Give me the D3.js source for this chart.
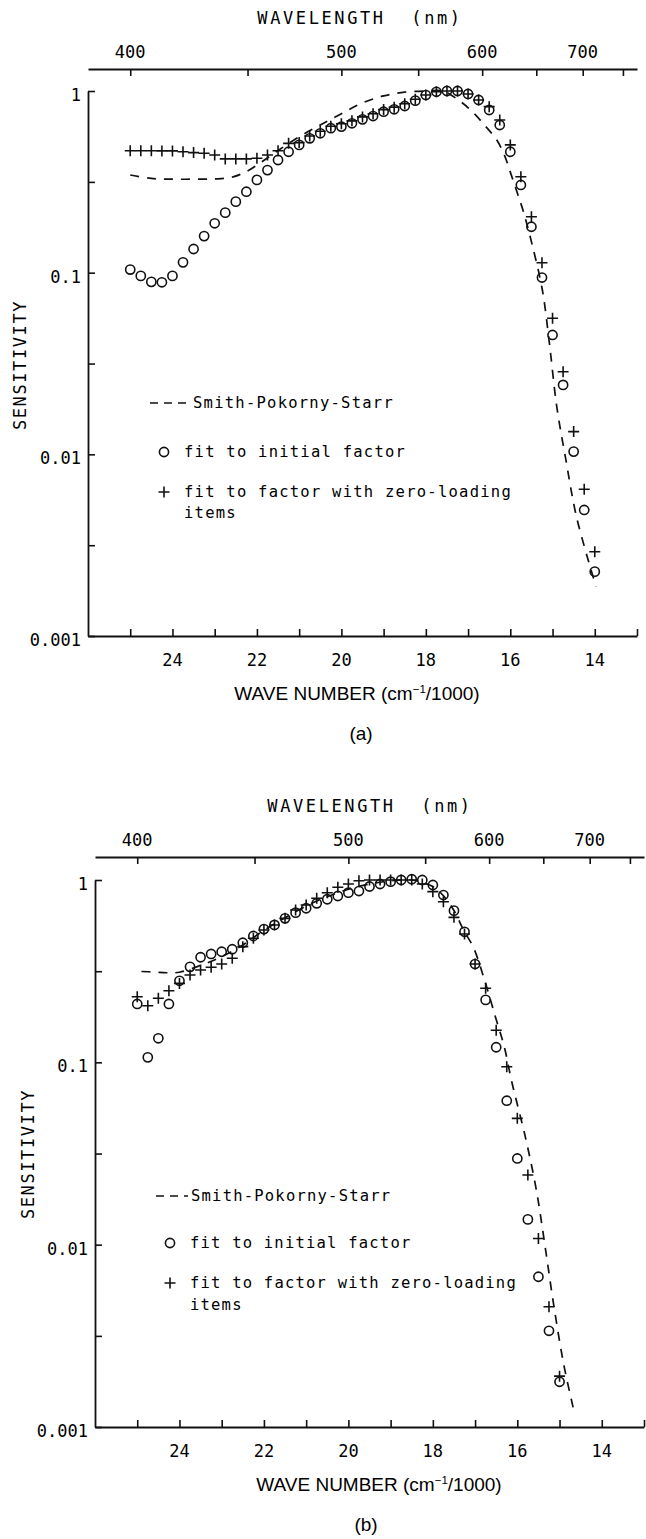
<!DOCTYPE html>
<html><head><meta charset="utf-8">
<script src="https://cdn.jsdelivr.net/npm/d3@7/dist/d3.min.js"></script>
<style>body{margin:0;background:#fff}svg{display:block}</style>
</head><body>
<svg id="chart" width="646" height="1539"></svg>
<script>
// ---------- axis ticks / labels ----------
const wavelengthTicks = [400, 450, 500, 550, 600, 650, 700, 750];
const wavelengthLabels = [400, 500, 600, 700];
const wavenumberTicks = [25, 24, 23, 22, 21, 20, 19, 18, 17, 16, 15, 14, 13];
const wavenumberLabels = [24, 22, 20, 18, 16, 14];
const sensTicks = [1, 0.316, 0.1, 0.0316, 0.01, 0.00316, 0.001];
const sensLabels = [1, 0.1, 0.01, 0.001];
const sensLabelText = ["1", "0.1", "0.01", "0.001"];

// ---------- panel (a) data ----------
const aWaveNumber = [25, 24.75, 24.5, 24.25, 24, 23.75, 23.5, 23.25, 23, 22.75, 22.5, 22.25, 22, 21.75, 21.5, 21.25, 21, 20.75, 20.5, 20.25, 20, 19.75, 19.5, 19.25, 19, 18.75, 18.5, 18.25, 18, 17.75, 17.5, 17.25, 17, 16.75, 16.5, 16.25, 16, 15.75, 15.5, 15.25, 15, 14.75, 14.5, 14.25, 14];
const aInitial = [0.104, 0.096, 0.089, 0.0885, 0.096, 0.114, 0.135, 0.159, 0.187, 0.214, 0.246, 0.279, 0.324, 0.367, 0.417, 0.463, 0.505, 0.549, 0.585, 0.624, 0.637, 0.664, 0.698, 0.728, 0.769, 0.793, 0.827, 0.885, 0.95, 0.99, 1.0, 1.0, 0.963, 0.892, 0.786, 0.65, 0.463, 0.304, 0.179, 0.094, 0.0454, 0.0241, 0.01035, 0.00494, 0.00226];
const aZeroLoading = [0.469, 0.469, 0.469, 0.468, 0.468, 0.463, 0.458, 0.454, 0.444, 0.423, 0.423, 0.423, 0.426, 0.444, 0.469, 0.515, 0.52, 0.565, 0.6, 0.64, 0.66, 0.685, 0.72, 0.75, 0.79, 0.815, 0.85, 0.9, 0.95, 0.99, 1.0, 1.0, 0.963, 0.892, 0.82, 0.692, 0.505, 0.337, 0.203, 0.1135, 0.0561, 0.0285, 0.01334, 0.00643, 0.00291];
const aSpsWaveNumber = [25, 24.5, 24, 23.5, 23, 22.6, 22.25, 21.9, 21.5, 21, 20.5, 20, 19.5, 19, 18.5, 18, 17.6, 17.25, 16.9, 16.58, 16.32, 16.14, 15.99, 15.83, 15.69, 15.49, 15.24, 15.07, 14.9, 14.69, 14.43, 13.97];
const aSps = [0.345, 0.33, 0.327, 0.327, 0.328, 0.335, 0.36, 0.405, 0.47, 0.56, 0.65, 0.75, 0.86, 0.94, 0.985, 1.0, 1.0, 0.9, 0.77, 0.637, 0.537, 0.444, 0.352, 0.273, 0.217, 0.145, 0.08, 0.04, 0.0183, 0.0095, 0.0045, 0.00187];

// ---------- panel (b) data ----------
const bWaveNumber = [25, 24.75, 24.5, 24.25, 24, 23.75, 23.5, 23.25, 23, 22.75, 22.5, 22.25, 22, 21.75, 21.5, 21.25, 21, 20.75, 20.5, 20.25, 20, 19.75, 19.5, 19.25, 19, 18.75, 18.5, 18.25, 18, 17.75, 17.5, 17.25, 17, 16.75, 16.5, 16.25, 16, 15.75, 15.5, 15.25, 15];
const bInitial = [0.209, 0.1065, 0.1355, 0.209, 0.28, 0.334, 0.377, 0.393, 0.404, 0.417, 0.453, 0.493, 0.538, 0.567, 0.616, 0.662, 0.7, 0.745, 0.784, 0.817, 0.852, 0.87, 0.921, 0.951, 0.979, 1.0, 1.01, 1.0, 0.939, 0.827, 0.679, 0.52, 0.346, 0.22, 0.121, 0.0616, 0.0297, 0.01376, 0.00667, 0.00337, 0.00177];
const bZeroLoading = [0.229, 0.2045, 0.2245, 0.247, 0.271, 0.301, 0.321, 0.332, 0.346, 0.372, 0.431, 0.479, 0.532, 0.567, 0.616, 0.684, 0.729, 0.794, 0.852, 0.912, 0.951, 0.99, 1.0, 1.0, 1.0, 1.0, 1.0, 0.951, 0.863, 0.76, 0.624, 0.506, 0.346, 0.255, 0.15, 0.0946, 0.0493, 0.0241, 0.0108, 0.00457, 0.0019];
const bSpsWaveNumber = [24.9, 24.6, 24.3, 24, 23.5, 23, 22.5, 22, 21.5, 21, 20.5, 20, 19.5, 19, 18.5, 18, 17.75, 17.5, 17.27, 17.04, 16.8, 16.52, 16.31, 16.13, 15.81, 15.55, 15.34, 15.14, 14.9, 14.65];
const bSps = [0.315, 0.313, 0.31, 0.312, 0.34, 0.38, 0.44, 0.53, 0.62, 0.72, 0.81, 0.89, 0.95, 0.99, 1.0, 0.92, 0.82, 0.68, 0.53, 0.427, 0.295, 0.178, 0.122, 0.078, 0.039, 0.02, 0.0097, 0.0047, 0.0022, 0.0012];

const legendText = ["Smith-Pokorny-Starr", "fit to initial factor", "fit to factor with zero-loading", "items"];

// ---------- layout ----------
const MONO = "'DejaVu Sans Mono', monospace";
const SANS = "'Liberation Sans', Arial, sans-serif";
const svg = d3.select("#chart");

const panels = [
  { initial: aInitial, zero: aZeroLoading, wn: aWaveNumber, spsWn: aSpsWaveNumber, sps: aSps, tag: "(a)",
    left: 88, right: 637, top: 91, bottom: 636, topAxis: 69,
    legX: 184, legMarkX: 164, legDash: [150, 186], legSpsX: 193, legY: [408, 457, 497, 518], legEnd: 512,
    titleX: 360, sensX: 20, subX: 357, tagX: 361 },
  { initial: bInitial, zero: bZeroLoading, wn: bWaveNumber, spsWn: bSpsWaveNumber, sps: bSps, tag: "(b)",
    left: 95, right: 644, top: 880, bottom: 1427, topAxis: 857,
    legX: 190, legMarkX: 170, legDash: [156, 188], legSpsX: 191, legY: [1201, 1248, 1288, 1310], legEnd: 517,
    titleX: 370, sensX: 28, subX: 379, tagX: 366 }
];

panels.forEach(p => {
  const g = svg.append("g");
  const x = d3.scaleLinear().domain([26, 13]).range([p.left, p.right]);
  const xw = d3.scalePow().exponent(-1).domain([10000 / 26, 10000 / 13]).range([p.left, p.right]);
  const y = d3.scaleLog().domain([0.001, 1]).range([p.bottom, p.top]);

  const styleAxis = sel => {
    sel.selectAll("path.domain").attr("stroke", "#111").attr("stroke-width", 1.8);
    sel.selectAll(".tick line").attr("stroke", "#111").attr("stroke-width", 1.6);
  };

  // bottom axis
  g.append("g").attr("transform", `translate(0,${p.bottom})`)
    .call(d3.axisBottom(x).tickValues(wavenumberTicks).tickSize(-7).tickSizeOuter(0).tickFormat(""))
    .call(styleAxis);
  g.selectAll("text.xlab").data(wavenumberLabels).enter().append("text")
    .attr("x", d => x(d)).attr("y", p.bottom + 30)
    .attr("text-anchor", "middle").attr("font-family", MONO).attr("font-size", 17)
    .text(d => d);

  // top axis (wavelength)
  g.append("g").attr("transform", `translate(0,${p.topAxis})`)
    .call(d3.axisTop(xw).tickValues(wavelengthTicks).tickSize(-7).tickSizeOuter(0).tickFormat(""))
    .call(styleAxis);
  g.selectAll("text.wlab").data(wavelengthLabels).enter().append("text")
    .attr("x", d => xw(d)).attr("y", p.topAxis - 11)
    .attr("text-anchor", "middle").attr("font-family", MONO).attr("font-size", 17)
    .text(d => d);
  g.append("text").attr("x", p.titleX).attr("y", p.topAxis - 45)
    .attr("text-anchor", "middle").attr("font-family", MONO).attr("font-size", 17)
    .attr("letter-spacing", 2.6).attr("xml:space", "preserve")
    .text("WAVELENGTH  (nm)");

  // left axis
  g.append("g").attr("transform", `translate(${p.left},0)`)
    .call(d3.axisLeft(y).tickValues(sensTicks).tickSize(-7).tickSizeOuter(0).tickFormat(""))
    .call(styleAxis);
  g.selectAll("text.ylab").data(sensLabels).enter().append("text")
    .attr("x", p.left - 7).attr("y", d => y(d) + 10)
    .attr("text-anchor", "end").attr("font-family", MONO).attr("font-size", 17)
    .text((d, i) => sensLabelText[i]);
  g.append("text")
    .attr("transform", `translate(${p.sensX + 6},${p.top + 274}) rotate(-90)`)
    .attr("text-anchor", "middle").attr("font-family", MONO).attr("font-size", 17)
    .attr("letter-spacing", 1.6).text("SENSITIVITY");

  // bottom title
  const t = g.append("text").attr("x", p.subX)
    .attr("y", p.bottom + 64).attr("text-anchor", "middle")
    .attr("font-family", SANS).attr("font-size", 19);
  t.append("tspan").text("WAVE NUMBER (cm");
  t.append("tspan").attr("font-size", 11.5).attr("dy", -7).text("\u22121");
  t.append("tspan").attr("dy", 7).text("/1000)");
  g.append("text").attr("x", p.tagX).attr("y", p.bottom + 104)
    .attr("text-anchor", "middle").attr("font-family", SANS).attr("font-size", 19).text(p.tag);

  // Smith-Pokorny-Starr dashed curve
  const line = d3.line().x(d => x(d[0])).y(d => y(d[1])).curve(d3.curveCatmullRom.alpha(0.5));
  g.append("path").datum(p.spsWn.map((w, i) => [w, p.sps[i]]))
    .attr("d", line).attr("fill", "none").attr("stroke", "#111")
    .attr("stroke-width", 1.7).attr("stroke-dasharray", "9,8");

  // circles
  g.selectAll("circle.init").data(p.wn).enter().append("circle")
    .attr("cx", d => x(d)).attr("cy", (d, i) => y(p.initial[i])).attr("r", 4.6)
    .attr("fill", "none").attr("stroke", "#111").attr("stroke-width", 1.6);
  // plus markers
  g.selectAll("path.plus").data(p.wn).enter().append("path")
    .attr("transform", (d, i) => `translate(${x(d)},${y(p.zero[i])})`)
    .attr("d", "M-5.5,0H5.5M0,-5.5V5.5").attr("stroke", "#111").attr("stroke-width", 1.6);

  // legend
  const lg = g.append("g").attr("font-family", MONO).attr("font-size", 15.5);
  lg.append("line").attr("x1", p.legDash[0]).attr("x2", p.legDash[1])
    .attr("y1", p.legY[0] - 5).attr("y2", p.legY[0] - 5)
    .attr("stroke", "#111").attr("stroke-width", 1.7).attr("stroke-dasharray", "8,6");
  lg.append("circle").attr("cx", p.legMarkX).attr("cy", p.legY[1] - 5).attr("r", 4.6)
    .attr("fill", "none").attr("stroke", "#111").attr("stroke-width", 1.6);
  lg.append("path").attr("transform", `translate(${p.legMarkX},${p.legY[2] - 5})`)
    .attr("d", "M-5.5,0H5.5M0,-5.5V5.5").attr("stroke", "#111").attr("stroke-width", 1.6);
  const w = (p.legEnd - p.legX) / 31;
  lg.selectAll("text").data(legendText).enter().append("text")
    .attr("x", (d, i) => i === 0 ? p.legSpsX : p.legX)
    .attr("y", (d, i) => p.legY[i])
    .attr("textLength", d => d.length * w - (w - 9.3)).attr("lengthAdjust", "spacing")
    .text(d => d);
});
</script>
</body></html>
